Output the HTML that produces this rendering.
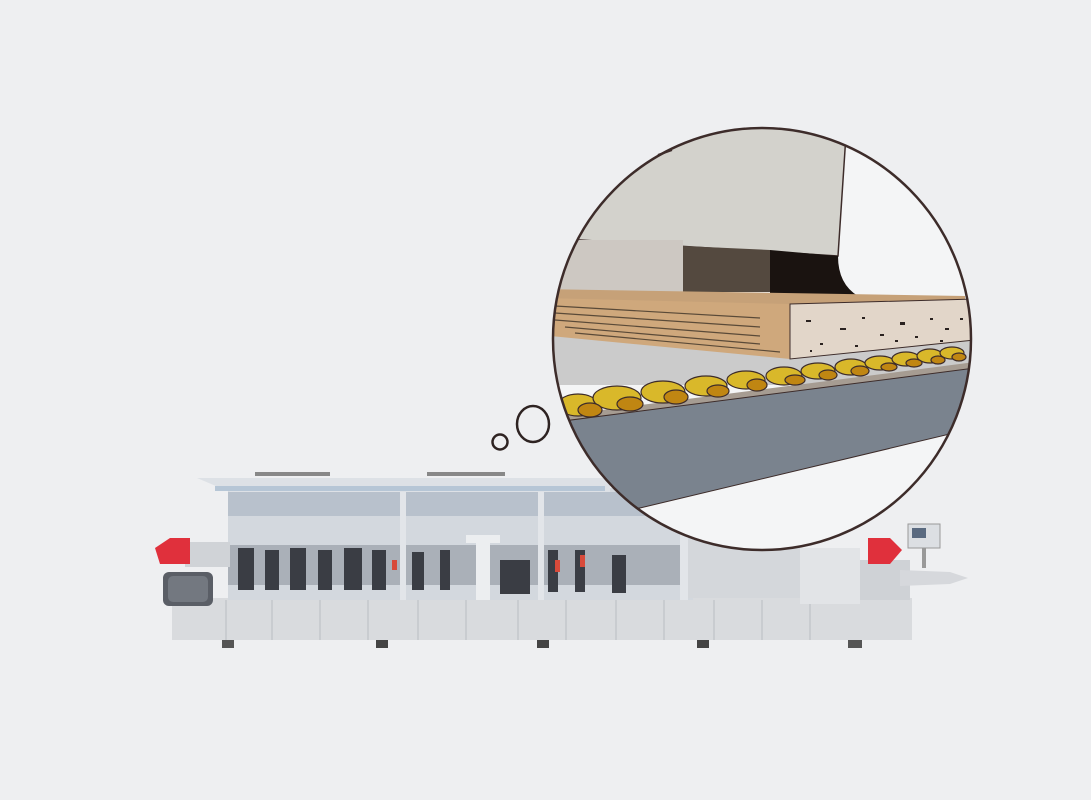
<!DOCTYPE html>
<html><head><meta charset="utf-8"><style>
html,body{margin:0;padding:0;background:#eeeff1;}
svg{display:block}
</style></head><body>
<svg width="1091" height="800" viewBox="0 0 1091 800" xmlns="http://www.w3.org/2000/svg">
<rect width="1091" height="800" fill="#eeeff1"/>
<!-- machine -->
<g>
  <rect x="222" y="638" width="12" height="10" fill="#555"/>
  <rect x="376" y="638" width="12" height="10" fill="#444"/>
  <rect x="537" y="638" width="12" height="10" fill="#444"/>
  <rect x="697" y="638" width="12" height="10" fill="#444"/>
  <rect x="848" y="638" width="14" height="10" fill="#555"/>
  <rect x="172" y="598" width="740" height="42" fill="#d9dbde"/>
  <g stroke="#b9bcc1" stroke-width="1">
    <line x1="226" y1="600" x2="226" y2="640"/><line x1="272" y1="600" x2="272" y2="640"/>
    <line x1="320" y1="600" x2="320" y2="640"/><line x1="368" y1="600" x2="368" y2="640"/>
    <line x1="418" y1="600" x2="418" y2="640"/><line x1="466" y1="600" x2="466" y2="640"/>
    <line x1="518" y1="600" x2="518" y2="640"/><line x1="566" y1="600" x2="566" y2="640"/>
    <line x1="616" y1="600" x2="616" y2="640"/><line x1="664" y1="600" x2="664" y2="640"/>
    <line x1="714" y1="600" x2="714" y2="640"/><line x1="762" y1="600" x2="762" y2="640"/>
    <line x1="810" y1="600" x2="810" y2="640"/>
  </g>
  <rect x="228" y="488" width="465" height="112" fill="#d3d8de"/>
  <rect x="228" y="492" width="465" height="24" fill="#b8c1cc"/>
  <rect x="228" y="545" width="465" height="40" fill="#aab0b8"/>
  <g fill="#3a3d44">
    <rect x="238" y="548" width="16" height="42"/><rect x="265" y="550" width="14" height="40"/>
    <rect x="290" y="548" width="16" height="42"/><rect x="318" y="550" width="14" height="40"/>
    <rect x="344" y="548" width="18" height="42"/><rect x="372" y="550" width="14" height="40"/>
    <rect x="412" y="552" width="12" height="38"/><rect x="440" y="550" width="10" height="40"/>
    <rect x="500" y="560" width="30" height="34"/><rect x="548" y="550" width="10" height="42"/>
    <rect x="575" y="550" width="10" height="42"/><rect x="612" y="555" width="14" height="38"/>
    <rect x="702" y="562" width="36" height="34"/>
  </g>
  <g fill="#d84a3a">
    <rect x="392" y="560" width="5" height="10"/><rect x="555" y="560" width="5" height="12"/>
    <rect x="580" y="555" width="5" height="12"/><rect x="720" y="572" width="22" height="20"/>
    <circle cx="822" cy="565" r="4"/><circle cx="835" cy="565" r="4"/>
  </g>
  <rect x="466" y="535" width="34" height="8" fill="#eceef0"/>
  <rect x="476" y="540" width="14" height="60" fill="#eceef0"/>
  <rect x="400" y="492" width="6" height="108" fill="#e2e5e9"/>
  <rect x="538" y="492" width="6" height="108" fill="#e2e5e9"/>
  <rect x="680" y="530" width="8" height="70" fill="#e2e5e9"/>
  <polygon points="197,478 610,478 610,492 230,492" fill="#dde1e6"/>
  <rect x="255" y="472" width="75" height="4" fill="#888"/>
  <rect x="427" y="472" width="78" height="4" fill="#888"/>
  <rect x="215" y="486" width="390" height="5" fill="#b6c6d6"/>
  <rect x="688" y="540" width="112" height="58" fill="#d4d7db"/>
  <rect x="800" y="548" width="60" height="56" fill="#e2e4e7"/>
  <rect x="860" y="560" width="50" height="40" fill="#cfd2d6"/>
  <polygon points="868,538 890,538 902,550 890,564 868,564" fill="#e0303c"/>
  <rect x="908" y="524" width="32" height="24" fill="#dcdfe3" stroke="#999"/>
  <rect x="912" y="528" width="14" height="10" fill="#5a6a80"/>
  <rect x="922" y="548" width="4" height="20" fill="#999"/>
  <polygon points="900,570 950,572 968,578 950,584 900,586" fill="#d6d8dc"/>
  <rect x="185" y="542" width="45" height="25" fill="#d0d3d7"/>
  <polygon points="155,548 170,538 190,538 190,564 160,564" fill="#e0303c"/>
  <rect x="163" y="572" width="50" height="34" rx="6" fill="#5a5e66"/>
  <rect x="168" y="576" width="40" height="26" rx="5" fill="#737880"/>
</g>
<defs><clipPath id="c"><ellipse cx="762" cy="339" rx="209" ry="211"/></clipPath></defs>
<ellipse cx="762" cy="339" rx="209" ry="211" fill="#f4f5f6"/>
<g clip-path="url(#c)">
  <polygon points="540,120 847,120 845,150 838,256 580,240 540,240" fill="#d3d2cc" stroke="#3d2c2a" stroke-width="1.5"/>
  <rect x="540" y="240" width="143" height="52" fill="#cdc8c2"/>
  <polygon points="683,246 770,250 770,292 683,292" fill="#54493f"/>
  <path d="M770,250 L838,256 Q838,284 858,296 L770,296 Z" fill="#1a1310"/>
  <rect x="540" y="325" width="440" height="60" fill="#cbcbcb"/>
  <polygon points="540,289 965,296 965,302 790,305 540,300" fill="#c6a178"/>
  <polygon points="540,298 790,304 790,359 540,335" fill="#cfa87c"/>
  <g stroke="#5a4a38" stroke-width="1.2">
    <line x1="555" y1="306" x2="760" y2="318"/><line x1="555" y1="313" x2="760" y2="327"/>
    <line x1="555" y1="320" x2="760" y2="336"/><line x1="565" y1="327" x2="760" y2="344"/>
    <line x1="575" y1="333" x2="780" y2="352"/>
  </g>
  <polygon points="790,304 975,299 975,340 790,359" fill="#e2d6c9" stroke="#3d2c2a" stroke-width="1"/>
  <g fill="#2a2220">
    <rect x="806" y="320" width="5" height="2"/><rect x="840" y="328" width="6" height="2"/><rect x="862" y="317" width="3" height="2"/>
    <rect x="880" y="334" width="4" height="2"/><rect x="900" y="322" width="5" height="3"/><rect x="915" y="336" width="3" height="2"/>
    <rect x="930" y="318" width="3" height="2"/><rect x="945" y="328" width="4" height="2"/><rect x="960" y="318" width="3" height="2"/>
    <rect x="820" y="343" width="3" height="2"/><rect x="855" y="345" width="3" height="2"/><rect x="895" y="340" width="3" height="2"/>
    <rect x="940" y="340" width="3" height="2"/><rect x="810" y="350" width="2" height="2"/>
  </g>
  <polygon points="540,418 975,362 975,368 540,424" fill="#a69c92"/>
  <polygon points="540,424 975,368 975,428 640,508 540,508" fill="#7a838e" stroke="#3d2c2a" stroke-width="1"/>
  <g stroke="#3d2c2a" stroke-width="1.2">
    <g fill="#d9b82a">
      <ellipse cx="578" cy="405" rx="20" ry="11"/><ellipse cx="617" cy="398" rx="24" ry="12"/>
      <ellipse cx="663" cy="392" rx="22" ry="11"/><ellipse cx="706" cy="386" rx="21" ry="10"/>
      <ellipse cx="746" cy="380" rx="19" ry="9"/><ellipse cx="784" cy="376" rx="18" ry="9"/>
      <ellipse cx="818" cy="371" rx="17" ry="8"/><ellipse cx="851" cy="367" rx="16" ry="8"/>
      <ellipse cx="880" cy="363" rx="15" ry="7"/><ellipse cx="906" cy="359" rx="14" ry="7"/>
      <ellipse cx="930" cy="356" rx="13" ry="7"/><ellipse cx="952" cy="353" rx="12" ry="6"/>
    </g>
    <g fill="#c08612">
      <ellipse cx="590" cy="410" rx="12" ry="7"/><ellipse cx="630" cy="404" rx="13" ry="7"/>
      <ellipse cx="676" cy="397" rx="12" ry="7"/><ellipse cx="718" cy="391" rx="11" ry="6"/>
      <ellipse cx="757" cy="385" rx="10" ry="6"/><ellipse cx="795" cy="380" rx="10" ry="5"/>
      <ellipse cx="828" cy="375" rx="9" ry="5"/><ellipse cx="860" cy="371" rx="9" ry="5"/>
      <ellipse cx="889" cy="367" rx="8" ry="4"/><ellipse cx="914" cy="363" rx="8" ry="4"/>
      <ellipse cx="938" cy="360" rx="7" ry="4"/><ellipse cx="959" cy="357" rx="7" ry="4"/>
    </g>
  </g>
</g>
<ellipse cx="762" cy="339" rx="209" ry="211" fill="none" stroke="#3d2c2a" stroke-width="2.5"/>
<path d="M658,155 L672,150" stroke="#3d2c2a" stroke-width="2"/>
<ellipse cx="533" cy="424" rx="16" ry="18" fill="none" stroke="#2e2322" stroke-width="2.5"/>
<circle cx="500" cy="442" r="7.5" fill="none" stroke="#2e2322" stroke-width="2.5"/>
</svg>
</body></html>
